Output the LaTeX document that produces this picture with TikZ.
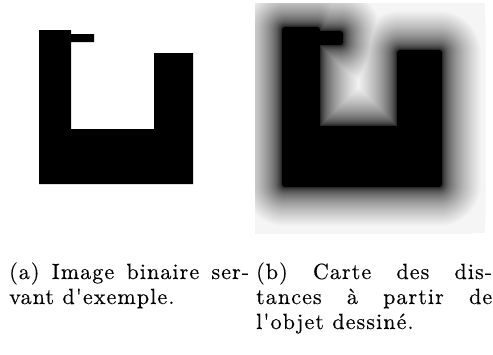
\documentclass[tikz,border=0pt]{standalone}
\usepackage{fontspec}
\usepackage{xcolor}
\usepackage{tikz}
\usetikzlibrary{positioning}
\newfontfamily\legendefont{lmroman10-regular}[Extension=.otf,LetterSpace=5,FakeBold=0.3]
\definecolor{FondCarte}{gray}{0.96}

\newcommand{\formeU}[1]{%
  \path[#1] (39,30) -- (71,30) -- (71,34) -- (94,34) -- (94,42) -- (71,42)
    -- (71,129) -- (154,129) -- (154,53) -- (193,53) -- (193,184) -- (39,184) -- cycle;}

\begin{document}
\begin{tikzpicture}[x=1pt,y=-1pt,
  legende/.style={anchor=base west,inner sep=0pt,
    font=\legendefont\fontsize{22}{25}\selectfont}]
\useasboundingbox (0,0) rectangle (493,354);
% image binaire
\formeU{fill=black}
% carte des distances
\begin{scope}
\clip (255,3) rectangle (485,233);
\fill[FondCarte] (255,3) rectangle (485,233);
\foreach \d in {60,59,...,4}{
  \pgfmathsetmacro\lev{min(96,96*((\d-3)/40)^0.5)}
  \colorlet{niveau}{white!\lev!black}
  \formeU{shift={(246,0)},fill=niveau,draw=niveau,line width={2*\d*1pt},line join=round}
}
\formeU{shift={(246,0)},fill=black,draw=black,line width=6pt,line join=round}
\end{scope}
% legendes
\node[legende] (capA1) at (9,279) {\makebox[240pt][s]{(a) Image binaire ser-}};
\node[legende] (capA2) at (9,304) {vant d'exemple.};
\node[legende] (capB1) at (256,279) {\makebox[236pt][s]{(b) Carte des dis-}};
\node[legende] (capB2) at (256,304) {\makebox[236pt][s]{tances à partir de}};
\node[legende] (capB3) at (256,329) {l'objet dessiné.};
\end{tikzpicture}
\end{document}
